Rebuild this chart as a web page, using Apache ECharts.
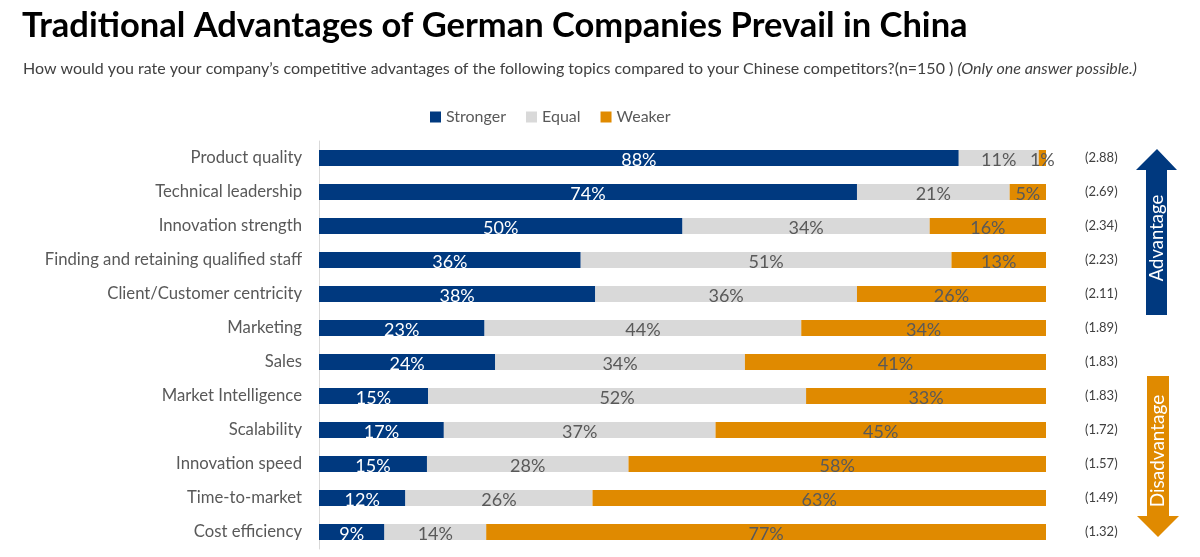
<!DOCTYPE html>
<html>
<head>
<meta charset="utf-8">
<script src="https://cdn.jsdelivr.net/npm/echarts@6/dist/echarts.min.js"></script>
<style>html,body{margin:0;padding:0;background:#fff}#c{width:1200px;height:557px}</style>
</head>
<body>
<div id="c"></div>
<script>
const categories = ["Product quality","Technical leadership","Innovation strength","Finding and retaining qualified staff","Client/Customer centricity","Marketing","Sales","Market Intelligence","Scalability","Innovation speed","Time-to-market","Cost efficiency"];
const stronger = [88,74,50,36,38,23,24,15,17,15,12,9];
const equal = [11,21,34,51,36,44,34,52,37,28,26,14];
const weaker = [1,5,16,13,26,34,41,33,45,58,63,77];
const scores = ["(2.88)","(2.69)","(2.34)","(2.23)","(2.11)","(1.89)","(1.83)","(1.83)","(1.72)","(1.57)","(1.49)","(1.32)"];

const FONT = "Lato";
const totals = categories.map((_, i) => stronger[i] + equal[i] + weaker[i]);
const norm = arr => arr.map((v, i) => v / totals[i] * 100);

function mk(name, raw, color, labelColor) {
  return {
    name, type: 'bar', stack: 'all', barWidth: 16,
    data: norm(raw),
    itemStyle: { color },
    label: {
      show: true, position: 'inside', color: labelColor, fontSize: 18, fontFamily: FONT,
      offset: [0, 2],
      formatter: p => raw[p.dataIndex] + '%'
    },
    emphasis: { disabled: true }
  };
}

const chart = echarts.init(document.getElementById('c'));
chart.setOption({
  animation: false,
  textStyle: { fontFamily: FONT },
  title: [{
    text: 'Traditional Advantages of German Companies Prevail in China',
    left: 17, top: 3,
    textStyle: { fontSize: 34.5, fontWeight: 'bold', color: '#000', fontFamily: FONT }
  }, {
    text: '{a|How would you rate your company\u2019s competitive advantages of the following topics compared to your Chinese competitors?(n=150 ) }{b|(Only one answer possible.)}',
    left: 18, top: 56,
    textStyle: {
      fontWeight: 'normal',
      rich: {
        a: { fontSize: 16, color: '#404040', fontWeight: 'normal', fontFamily: FONT },
        b: { fontSize: 16, color: '#404040', fontWeight: 'normal', fontStyle: 'italic', fontFamily: FONT }
      }
    }
  }],
  legend: {
    left: 425, top: 104, icon: 'rect', itemWidth: 11, itemHeight: 11, itemGap: 20,
    textStyle: { fontSize: 16, color: '#595959', fontFamily: FONT },
    data: ['Stronger', 'Equal', 'Weaker']
  },
  grid: { left: 319, right: 154, top: 141, bottom: 8, containLabel: false },
  xAxis: { type: 'value', min: 0, max: 100, show: false },
  yAxis: [{
    type: 'category', data: categories, inverse: true,
    axisLine: { show: true, lineStyle: { color: '#d9d9d9', width: 1 } },
    axisTick: { show: false },
    axisLabel: { fontSize: 16.7, color: '#595959', margin: 17, fontFamily: FONT }
  }, {
    type: 'category', data: scores, inverse: true, position: 'right',
    axisLine: { show: false }, axisTick: { show: false },
    axisLabel: { fontSize: 13, color: '#404040', margin: 39, fontFamily: FONT }
  }],
  series: [
    mk('Stronger', stronger, '#00397f', '#ffffff'),
    mk('Equal', equal, '#d9d9d9', '#595959'),
    mk('Weaker', weaker, '#e08a00', '#595959')
  ],
  graphic: [
    { type: 'polygon', shape: { points: [[1157,149],[1177,170],[1167,170],[1167,315],[1146,315],[1146,170],[1136,170]] }, style: { fill: '#00397f' } },
    { type: 'text', x: 1157, y: 238, rotation: Math.PI / 2, style: { text: 'Advantage', fill: '#fff', fontSize: 18.5, fontFamily: FONT, align: 'center', verticalAlign: 'middle' } },
    { type: 'polygon', shape: { points: [[1147,376],[1169,376],[1169,516],[1179,516],[1158,537],[1137,516],[1147,516]] }, style: { fill: '#e08a00' } },
    { type: 'text', x: 1158, y: 451, rotation: Math.PI / 2, style: { text: 'Disadvantage', fill: '#fff', fontSize: 19, fontFamily: FONT, align: 'center', verticalAlign: 'middle' } }
  ]
});
</script>
</body>
</html>
